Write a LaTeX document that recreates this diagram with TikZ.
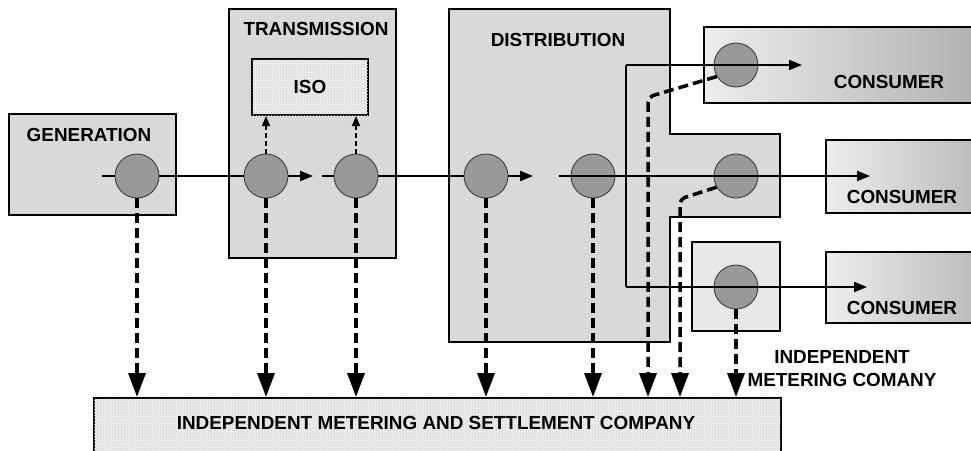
\documentclass[tikz,border=0pt]{standalone}
\usepackage{fontspec}
\setmainfont{Liberation Sans}
\usetikzlibrary{arrows.meta,patterns}
\begin{document}
\begin{tikzpicture}[x=1pt,y=-1pt,
  txt/.style={font=\fontsize{18.9}{23}\selectfont\bfseries, inner sep=0pt, align=center},
  box/.style={draw=black, line width=2pt, fill=black!15, inner sep=0pt},
  hatchbox/.style={draw=black, line width=2pt, fill=black!7, inner sep=0pt,
     postaction={pattern=crosshatch dots, pattern color=black!22}},
  consbox/.style={draw=black, line width=2pt, left color=black!7, right color=black!33, inner sep=0pt},
  meter/.style={circle, draw=black!80, line width=0.8pt, fill=black!40, minimum size=44pt, inner sep=0pt},
  flow/.style={line width=2pt},
  flowarrow/.style={line width=2pt, -{Triangle[width=10pt,length=13pt]}},
  isoarrow/.style={line width=1.4pt, dash pattern=on 5pt off 3pt, -{Triangle[width=8pt,length=10pt]}},
  data/.style={line width=3.5pt, dash pattern=on 10pt off 5pt, -{Triangle[width=17pt,length=24pt]}}
]
\clip (0,0) rectangle (971,450);
% boxes
\node[box, minimum width=167pt, minimum height=101pt] (genbox) at (92.5,164.5) {};
\node[box, minimum width=167pt, minimum height=249pt] (trbox) at (312.5,133.5) {};
\path[draw=black, line width=2pt, fill=black!15]
  (449,9) -- (670,9) -- (670,134) -- (780,134) -- (780,217) -- (670,217) -- (670,342) -- (449,342) -- cycle;
\node[box, fill=black!9, minimum width=88pt, minimum height=89pt] (mbox) at (736,286.5) {};
\node[consbox, minimum width=300pt, minimum height=76pt, anchor=north west] (cons1) at (703,26) {};
\node[consbox, minimum width=200pt, minimum height=73pt, anchor=north west] (cons2) at (825,139) {};
\node[consbox, minimum width=200pt, minimum height=71pt, anchor=north west] (cons3) at (825,251) {};
\node[hatchbox, minimum width=116pt, minimum height=56pt] (iso) at (310,87) {};
\node[hatchbox, minimum width=687pt, minimum height=80pt, anchor=north west] (set) at (93,397) {};
% texts
\node[txt] (tgen) at (89,135) {GENERATION};
\node[txt] (ttr) at (316,29) {TRANSMISSION};
\node[txt] (tdist) at (558,40) {DISTRIBUTION};
\node[txt] (tiso) at (iso) {ISO};
\node[txt] (tc1) at (889,82) {CONSUMER};
\node[txt] (tc2) at (902,197) {CONSUMER};
\node[txt] (tc3) at (902,308) {CONSUMER};
\node[txt] (tset) at (436,423) {INDEPENDENT METERING AND SETTLEMENT COMPANY};
\node[txt] (timc) at (842,368.5) {INDEPENDENT\\METERING COMANY};
% meters
\node[meter] (g) at (137,176) {};
\node[meter] (t1) at (266,176) {};
\node[meter] (t2) at (356,176) {};
\node[meter] (d1) at (486,176) {};
\node[meter] (d2) at (593,176) {};
\node[meter] (c1) at (736,65) {};
\node[meter] (c2) at (736,176) {};
\node[meter] (c3) at (736,287) {};
% flow coordinates
\coordinate (gs) at (102,176);
\coordinate (ta) at (313,176);
\coordinate (ts) at (322,176);
\coordinate (da) at (533,176);
\coordinate (ds) at (559,176);
\coordinate (c2a) at (870,176);
\coordinate (jt) at (626,65);
\coordinate (jb) at (626,287);
\coordinate (c1a) at (802,65);
\coordinate (c3a) at (867,287);
% flows
\draw[flow] (gs) -- (g.west);
\draw[flow] (g.east) -- (t1.west);
\draw[flowarrow] (t1.east) -- (ta);
\draw[flow] (ts) -- (t2.west);
\draw[flow] (t2.east) -- (d1.west);
\draw[flowarrow] (d1.east) -- (da);
\draw[flowarrow] (ds) -- (c2a);
\draw[flow, line join=miter] (jt) -- (jb);
\draw[flowarrow] (jt) -- (c1a);
\draw[flowarrow] (jb) -- (c3a);
% to ISO
\draw[isoarrow] (t1.north) -- (t1.north |- iso.south);
\draw[isoarrow] (t2.north) -- (t2.north |- iso.south);
% metering data
\draw[data] (g.south) -- (g.south |- set.north);
\draw[data] (t1.south) -- (t1.south |- set.north);
\draw[data] (t2.south) -- (t2.south |- set.north);
\draw[data] (d1.south) -- (d1.south |- set.north);
\draw[data] (d2.south) -- (d2.south |- set.north);
\coordinate (k1) at (648,97);
\coordinate (k2) at (680,199);
\draw[data, rounded corners=5pt] (c1.211) -- (k1) -- (k1 |- set.north);
\draw[data, rounded corners=5pt] (c2.210) -- (k2) -- (k2 |- set.north);
\draw[data] (c3.south) -- (c3.south |- set.north);
\end{tikzpicture}
\end{document}
